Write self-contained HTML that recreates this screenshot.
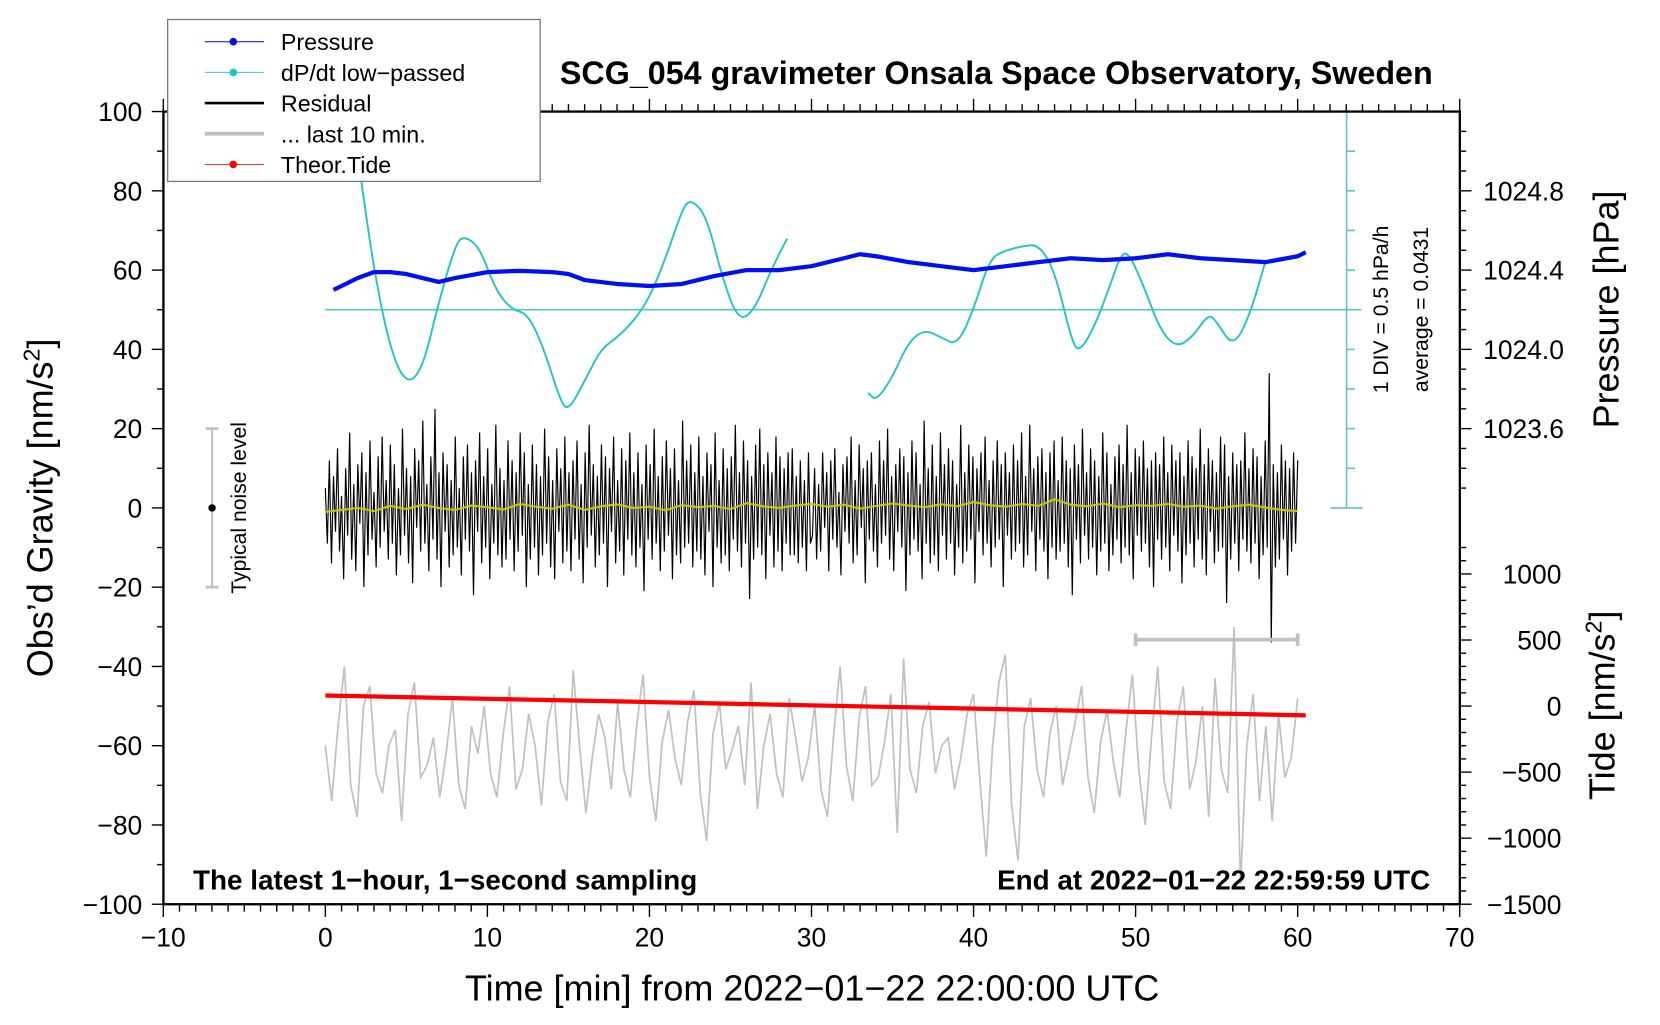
<!DOCTYPE html>
<html><head><meta charset="utf-8"><style>
html,body{margin:0;padding:0;background:#fff;}
svg text{font-family:"Liberation Sans",sans-serif;}
</style></head><body>
<svg id="chart" width="1660" height="1020" viewBox="0 0 1660 1020" xmlns="http://www.w3.org/2000/svg">
<g id="root" transform="translate(1.5,1.5) scale(1.0583)"></g>
</svg>
<script>
// ---- data ----
const pressureT = [0.5,1,2,3,4,5,6,7,8,10,12,14,15,16,18,20,22,24,26,28,30,32,33,34,36,38,40,42,44,46,48,50,52,54,56,58,60,60.5];
const pressureHPa = [1024.30,1024.32,1024.36,1024.39,1024.39,1024.38,1024.36,1024.34,1024.36,1024.39,1024.396,1024.39,1024.38,1024.35,1024.33,1024.32,1024.33,1024.37,1024.40,1024.40,1024.42,1024.46,1024.48,1024.47,1024.44,1024.42,1024.40,1024.42,1024.44,1024.46,1024.45,1024.46,1024.48,1024.46,1024.45,1024.44,1024.47,1024.49];
const dpdt1T = [2.2,3,4,5,6,7,8,8.5,9.5,10.5,11.5,12.5,13.5,14.5,15,16,17,18,19,20,21,22,22.5,23.5,24.5,25.5,26.5,27.5,28.5];
const dpdt1V = [83,60,40,31,35,52,66,68.7,66,55,50,49,40,27,24.5,32,40,43,47,53,63,75,78,74,58,47,50,60,68];
const dpdt2T = [33.5,34,35,36,37,38,39,40,41,42,43,44,45,46,46.5,47.5,48.5,49,49.5,50.5,51.5,52.5,53.5,54.5,55,56,57,58];
const dpdt2V = [29,27,33,42,45,43,41,50,63,65,66,66.5,60,43,39,46,57,63,65,56,45,40.5,43,49,47,40.5,48,62];
const residual = [5,-9,12,-14,8,-6,15,-11,3,-18,10,-7,19,-13,6,-16,11,-4,14,-20,9,-12,17,-8,4,-15,13,-10,18,-6,
 7,-13,16,-9,11,-17,5,-12,20,-7,10,-14,8,-19,15,-5,12,-11,22,-9,6,-16,13,-8,25,-13,9,-20,14,-6,
 11,-15,7,-12,18,-10,5,-17,13,-8,16,-11,9,-22,12,-6,19,-14,8,-10,15,-18,6,-9,21,-12,10,-15,7,-13,
 17,-8,12,-16,9,-11,19,-7,14,-20,6,-13,16,-10,11,-17,8,-12,20,-9,13,-15,7,-18,15,-6,10,-14,18,-11,
 9,-16,12,-8,17,-13,6,-19,14,-10,21,-7,11,-15,8,-12,16,-9,13,-20,10,-6,18,-14,7,-11,15,-17,12,-8,
 19,-12,9,-15,14,-10,6,-21,16,-8,11,-13,20,-9,8,-16,13,-11,17,-7,10,-18,15,-12,7,-14,22,-10,12,-9,
 16,-15,9,-11,18,-13,8,-17,14,-6,11,-20,19,-10,7,-14,15,-12,10,-16,13,-8,21,-11,9,-15,17,-9,12,-23,
 8,-13,16,-10,20,-12,11,-18,14,-7,9,-15,18,-11,13,-16,10,-9,14,-12,15,-12,8,-14,12,-10,7,-16,14,-9,
 -7,10,-13,6,-11,14,-5,9,-16,12,-8,15,-10,4,-17,11,-6,13,-9,18,-14,7,-12,16,-5,10,-19,12,-8,14,
 -11,6,-15,17,-9,12,-7,20,-13,8,-16,11,-6,15,-10,13,-21,9,-12,17,-8,14,-11,6,-18,22,-9,10,-14,16,
 -12,8,-16,19,-7,11,-13,15,-9,12,-17,6,-10,21,-14,9,-11,16,-8,13,-19,10,-6,14,-12,18,-9,7,-15,12,
 -10,17,-8,11,-20,14,-7,9,-13,16,-11,12,-9,19,-15,8,-12,21,-6,10,-16,13,-8,15,-11,9,-18,14,-10,17,
 -13,7,-11,18,-9,12,-15,10,-22,16,-8,11,-14,20,-7,9,-13,15,-10,12,-17,8,-11,19,-9,14,-16,6,-12,13,
 -8,16,-14,11,-10,21,-12,9,-18,15,-7,13,-11,17,-9,10,-15,12,-20,14,-8,11,-13,18,-10,9,-16,16,-7,12,
 -11,14,-19,8,-12,17,-9,13,-15,10,-8,20,-13,11,-17,15,-6,12,-14,9,-11,18,-10,16,-24,8,-13,14,-9,11,
 -16,12,-8,19,-11,10,-14,15,-9,13,-18,8,-12,17,-10,34,-34,11,-15,9,-13,16,-8,12,-17,10,-11,14,-9,12];
const smoothRes = [-1,-0.5,0,-0.8,0.5,-0.3,0.8,0,-0.5,0.6,0.2,-0.4,1,0.3,-0.2,0.8,-0.5,0.4,0.9,0,0.3,-0.6,0.7,0.2,0.5,-0.3,1.2,0.4,0,0.6,1,0.3,0.8,-0.2,0.5,1.1,0.6,0.2,0.9,0.4,1.5,0.7,0.3,1,0.5,2.2,0.8,0.4,1.1,0.2,0.7,0.5,1,0.3,0.6,-0.2,0.4,0.8,0.1,-0.5,-0.8];
const lastTen = [-60,-74,-55,-40,-70,-78,-50,-45,-67,-72,-60,-56,-79,-52,-44,-68,-65,-58,-73,-62,-48,-70,-76,-55,-62,-50,-67,-73,-57,-45,-71,-66,-52,-60,-75,-54,-47,-69,-74,-41,-60,-77,-63,-52,-58,-71,-49,-66,-73,-55,-42,-68,-79,-59,-51,-63,-70,-54,-46,-72,-84,-57,-49,-66,-61,-55,-70,-44,-76,-60,-52,-67,-73,-48,-58,-69,-63,-50,-71,-78,-57,-40,-65,-74,-53,-45,-70,-68,-59,-47,-82,-38,-66,-72,-55,-49,-67,-60,-58,-71,-63,-52,-47,-69,-88,-60,-44,-37,-75,-89,-55,-48,-66,-73,-57,-50,-70,-62,-54,-45,-68,-77,-59,-51,-64,-73,-56,-42,-66,-80,-58,-40,-69,-76,-54,-45,-71,-64,-50,-78,-43,-66,-72,-30,-95,-60,-47,-74,-55,-79,-52,-68,-63,-48];
const tideT = [0,60.5];
const tideV = [80,-70];
const xTicks = [-10,0,10,20,30,40,50,60,70];
const yTicks = [-100,-80,-60,-40,-20,0,20,40,60,80,100];
const pTicks = [1023.6,1024.0,1024.4,1024.8];
const tideTicks = [1000,500,0,-500,-1000,-1500];

// ---- axes ----
const L=153,R=1378,T=104,B=853;
const X=t=>306+t*(R-L)/80;
const Y=g=>T+(100-g)*(B-T)/200;
const pToG=p=>60+(p-1024.4)*50;
const tideToG=v=>-50+v/30;
const root=document.getElementById('root');
const NS='http://www.w3.org/2000/svg';
function mk(tag,attrs,parent){const e=document.createElementNS(NS,tag);for(const k in attrs)e.setAttribute(k,attrs[k]);(parent||root).appendChild(e);return e;}
function txt(s,attrs,parent){const e=mk('text',attrs,parent);e.textContent=s;return e;}
function poly(pts){return pts.map(p=>p[0].toFixed(1)+','+p[1].toFixed(1)).join(' ');}

let g1=mk('polyline',{points:poly(lastTen.map((v,i)=>[X(i*60/(lastTen.length-1)),Y(v)])),fill:'none',stroke:'#c0c0c0','stroke-width':1.6});



let r1=mk('polyline',{points:poly(residual.map((v,i)=>[X(i*60/(residual.length-1)),Y(v)])),fill:'none',stroke:'#000','stroke-width':1.1});


let s1=mk('polyline',{points:poly(smoothRes.map((v,i)=>[X(i*60/(smoothRes.length-1)),Y(v)])),fill:'none',stroke:'#c8c800','stroke-width':2});



let hl=mk('line',{x1:X(0),x2:1285,y1:Y(50),y2:Y(50),stroke:'#5ec4c0','stroke-width':1.5});


let sb=mk('g',{});


mk('line',{x1:1271,x2:1271,y1:Y(100),y2:Y(0),stroke:'#5ec4c0','stroke-width':1.5},sb);
for(let i=0;i<=10;i++){const y=Y(100-i*10);const cap=(i==0||i==10);mk('line',{x1:cap?1256:1271,x2:cap?1286:1279,y1:y,y2:y,stroke:'#5ec4c0','stroke-width':1.5},sb);}

[[dpdt1T,dpdt1V],[dpdt2T,dpdt2V]].forEach(([tt,vv],k)=>{
 let d='';
 tt.forEach((t,i)=>{const x=X(t),y=Y(vv[i]);if(i==0)d='M'+x+','+y;else{const xp=X(tt[i-1]),yp=Y(vv[i-1]);const xm=(xp+x)/2;d+=' Q'+xp+','+yp+' '+xm+','+((yp+y)/2);}});
 d+=' L'+X(tt[tt.length-1])+','+Y(vv[vv.length-1]);
 let p=mk('path',{d:d,fill:'none',stroke:'#22c4c4','stroke-width':1.8});
 
 
});

let pl=mk('polyline',{points:poly(pressureT.map((t,i)=>[X(t),Y(pToG(pressureHPa[i]))])),fill:'none',stroke:'#0010f0','stroke-width':4,'stroke-linejoin':'round'});



let tl=mk('polyline',{points:poly(tideT.map((t,i)=>[X(t),Y(tideToG(tideV[i]))])),fill:'none',stroke:'#ff0000','stroke-width':4});



let tb=mk('g',{stroke:'#c0c0c0','stroke-width':3.5});


mk('line',{x1:X(50),x2:X(60),y1:603,y2:603},tb);
mk('line',{x1:X(50),x2:X(50),y1:597,y2:609},tb);
mk('line',{x1:X(60),x2:X(60),y1:597,y2:609},tb);

let nl=mk('g',{});


mk('line',{x1:199,x2:199,y1:Y(20),y2:Y(-20),stroke:'#c0c0c0','stroke-width':2},nl);
mk('line',{x1:193,x2:205,y1:Y(20),y2:Y(20),stroke:'#c0c0c0','stroke-width':2.5},nl);
mk('line',{x1:193,x2:205,y1:Y(-20),y2:Y(-20),stroke:'#c0c0c0','stroke-width':2.5},nl);
mk('circle',{cx:199,cy:Y(0),r:3.5,fill:'#000'},nl);
txt('Typical noise level',{x:0,y:0,'font-size':20,transform:'translate(231,'+Y(0)+') rotate(-90)','text-anchor':'middle'},nl);

let fr=mk('rect',{x:L,y:T,width:R-L,height:B-T,fill:'none',stroke:'#000','stroke-width':2.2});



let xa=mk('g',{});


for(let t=-10;t<=70;t++){const x=X(t);const maj=t%10==0;
 mk('line',{x1:x,x2:x,y1:B,y2:B+(maj?12:7),stroke:'#000','stroke-width':1.3},xa);
 mk('line',{x1:x,x2:x,y1:T,y2:T-(maj?12:7),stroke:'#000','stroke-width':1.3},xa);}
xTicks.forEach(t=>txt(String(t).replace('-','\u2212'),{x:X(t),y:B+40,'font-size':25,'text-anchor':'middle'},xa));
txt('Time [min] from 2022\u221201\u221222 22:00:00 UTC',{x:766,y:944,'font-size':34,'text-anchor':'middle'},xa);

let ya=mk('g',{});


for(let g=-100;g<=100;g+=10){const y=Y(g);mk('line',{x1:L,x2:L-(g%20==0?11:6),y1:y,y2:y,stroke:'#000','stroke-width':1.3},ya);}
yTicks.forEach(g=>txt(String(g).replace('-','\u2212'),{x:L-20,y:Y(g)+9,'font-size':25,'text-anchor':'end'},ya));
let yt=txt('Obs\u2019d Gravity [nm/s',{x:0,y:0,'font-size':34,transform:'translate(48,'+Y(0)+') rotate(-90)','text-anchor':'middle'},ya);
const sup=document.createElementNS(NS,'tspan');sup.setAttribute('dy','-12');sup.setAttribute('font-size','22');sup.textContent='2';yt.appendChild(sup);
const cl=document.createElementNS(NS,'tspan');cl.setAttribute('dy','12');cl.textContent=']';yt.appendChild(cl);

let pa=mk('g',{});


for(let k=0;k<=19;k++){const p=1023.3+k*0.1;const y=Y(pToG(p));if(y<T+5||y>T+380)continue;
 const maj=pTicks.some(q=>Math.abs(q-p)<1e-6);mk('line',{x1:R,x2:R+(maj?11:6),y1:y,y2:y,stroke:'#000','stroke-width':1.3},pa);}
pTicks.forEach(p=>txt(p.toFixed(1),{x:R+22,y:Y(pToG(p))+9,'font-size':25},pa));
txt('Pressure [hPa]',{x:0,y:0,'font-size':34,transform:'translate(1528,291) rotate(-90)','text-anchor':'middle'},pa);
txt('1 DIV = 0.5 hPa/h',{x:0,y:0,'font-size':20,transform:'translate(1310,291) rotate(-90)','text-anchor':'middle'},pa);
txt('average = 0.0431',{x:0,y:0,'font-size':20,transform:'translate(1348,291) rotate(-90)','text-anchor':'middle'},pa);

let ta=mk('g',{});


for(let v=-1500;v<=1200;v+=100){const y=Y(tideToG(v));const maj=v%500==0;mk('line',{x1:R,x2:R+(maj?11:6),y1:y,y2:y,stroke:'#000','stroke-width':1.3},ta);}
tideTicks.forEach(v=>txt(String(v).replace('-','\u2212'),{x:1474,y:Y(tideToG(v))+9,'font-size':25,'text-anchor':'end'},ta));
let tt2=txt('Tide [nm/s',{x:0,y:0,'font-size':34,transform:'translate(1524,665) rotate(-90)','text-anchor':'middle'},ta);
const s2=document.createElementNS(NS,'tspan');s2.setAttribute('dy','-12');s2.setAttribute('font-size','22');s2.textContent='2';tt2.appendChild(s2);
const c2=document.createElementNS(NS,'tspan');c2.setAttribute('dy','12');c2.textContent=']';tt2.appendChild(c2);

let ti=txt('SCG_054 gravimeter Onsala Space Observatory, Sweden',{x:940,y:78,'font-size':30.5,'font-weight':'bold','text-anchor':'middle'});


let n1=txt('The latest 1\u2212hour, 1\u2212second sampling',{x:181,y:839,'font-size':26.3,'font-weight':'bold'});


let n2=txt('End at 2022\u221201\u221222 22:59:59 UTC',{x:1350,y:839,'font-size':26.3,'font-weight':'bold','text-anchor':'end'});



let lg=mk('g',{});


mk('rect',{x:157,y:17,width:352,height:153,fill:'#fff',stroke:'#777','stroke-width':1.2},lg);
const leg=[['Pressure','#2020ff',1,true,'#0010f0'],['dP/dt low\u2212passed','#40c8c8',1,true,'#10c8c8'],['Residual','#000',2.5,false,''],['... last 10 min.','#c0c0c0',3.5,false,''],['Theor.Tide','#ff3030',1,true,'#ff0000']];
leg.forEach((e,i)=>{const y=38+i*29;
 let it=mk('g',{},lg);
 
 
 mk('line',{x1:192,x2:248,y1:y,y2:y,stroke:e[1],'stroke-width':e[2]},it);
 if(e[3])mk('circle',{cx:219,cy:y,r:3.6,fill:e[4]},it);
 txt(e[0],{x:264,y:y+8,'font-size':22},it);});
</script>
</body></html>
